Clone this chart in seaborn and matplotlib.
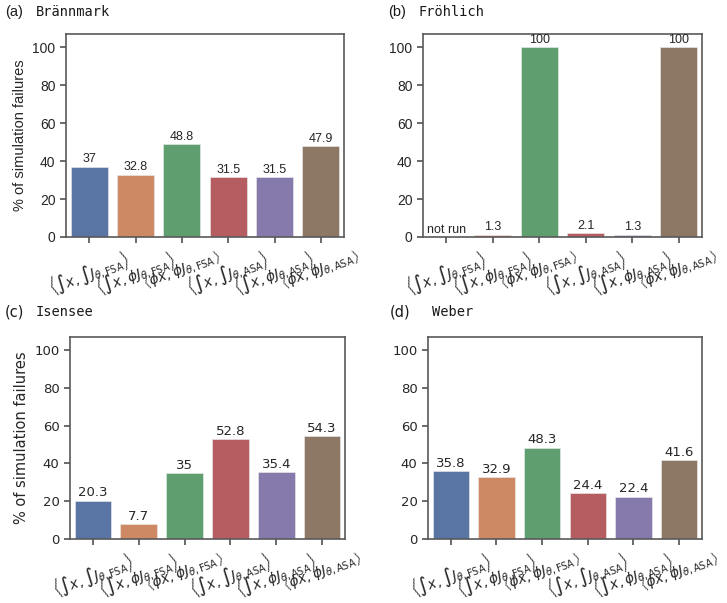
import numpy as np
import pandas as pd
import matplotlib
matplotlib.use("Agg")
import matplotlib.pyplot as plt
import seaborn as sns

# Données
methods = [
    r"$\left\langle \int x, \int J_{\theta,\mathrm{FSA}} \right\rangle$",
    r"$\left\langle \int x, \phi J_{\theta,\mathrm{FSA}} \right\rangle$",
    r"$\left\langle \phi x, \phi J_{\theta,\mathrm{FSA}} \right\rangle$",
    r"$\left\langle \int x, \int J_{\theta,\mathrm{ASA}} \right\rangle$",
    r"$\left\langle \int x, \phi J_{\theta,\mathrm{ASA}} \right\rangle$",
    r"$\left\langle \phi x, \phi J_{\theta,\mathrm{ASA}} \right\rangle$",
]
models = ["Brännmark", "Fröhlich", "Isensee", "Weber"]
panel_tags = ["(a)", "(b)", "(c)", "(d)"]

brannmark = [37, 32.8, 48.8, 31.5, 31.5, 47.9]
frohlich = [np.nan, 1.3, 100, 2.1, 1.3, 100]  # premier : non exécuté
isensee = [20.3, 7.7, 35, 52.8, 35.4, 54.3]
weber = [35.8, 32.9, 48.3, 24.4, 22.4, 41.6]
all_values = [brannmark, frohlich, isensee, weber]

W, H = 727, 603
# positions des axes en pixels (gauche, haut, droite, bas)
boxes = [(66, 34, 344, 237), (423, 34, 702, 237),
         (70, 337, 345, 539), (428, 337, 702, 539)]
title_y = [12, 12, 312, 312]
tag_x = [5, 388, 5, 390]
name_x = [36, 418, 36, 432]

sns.set_theme(style="ticks")
fig = plt.figure(figsize=(W / 100, H / 100), dpi=100)

for i, (model, vals) in enumerate(zip(models, all_values)):
    font = "Liberation Sans" if i < 2 else "DejaVu Sans"
    l, t, r, b = boxes[i]
    ax = fig.add_axes([l / W, 1 - b / H, (r - l) / W, (b - t) / H])

    df = pd.DataFrame({"method": methods,
                       "value": np.nan_to_num(np.array(vals, dtype=float))})
    sns.barplot(data=df, x="method", y="value", hue="method", order=methods,
                palette="deep", legend=False, linewidth=0.4,
                edgecolor="#eeeeee", ax=ax)

    for cont, v in zip(ax.containers, vals):
        txt = "not run" if np.isnan(v) else f"{v:g}"
        ax.bar_label(cont, labels=[txt], fontsize=9 if i < 2 else 9.5,
                     padding=1, fontfamily=font, color="0.15")

    ax.set_ylim(0, 107)
    ax.set_yticks([0, 20, 40, 60, 80, 100])
    ax.set_xlabel("")
    if i % 2 == 0:
        ax.set_ylabel("% of simulation failures", fontsize=10.5, fontfamily=font)
    else:
        ax.set_ylabel("")
    ax.set_xticks(range(len(methods)))
    ax.set_xticklabels(methods, rotation=20, ha="center", fontsize=10)
    for lab in ax.get_yticklabels():
        lab.set_fontfamily(font)
        lab.set_fontsize(10 if i < 2 else 9.5)
    for sp in ax.spines.values():
        sp.set_edgecolor("0.35")
        sp.set_linewidth(1.2)
    ax.tick_params(axis="both", colors="0.35", labelcolor="0.15", length=4)

    fig.text(tag_x[i] / W, 1 - title_y[i] / H, panel_tags[i],
             fontsize=10.5, fontfamily=font, va="center", color="0.1")
    fig.text(name_x[i] / W, 1 - title_y[i] / H, model,
             fontsize=9.8, fontfamily="DejaVu Sans Mono", va="center", color="0.1")

fig.savefig("out.png", dpi=100)
